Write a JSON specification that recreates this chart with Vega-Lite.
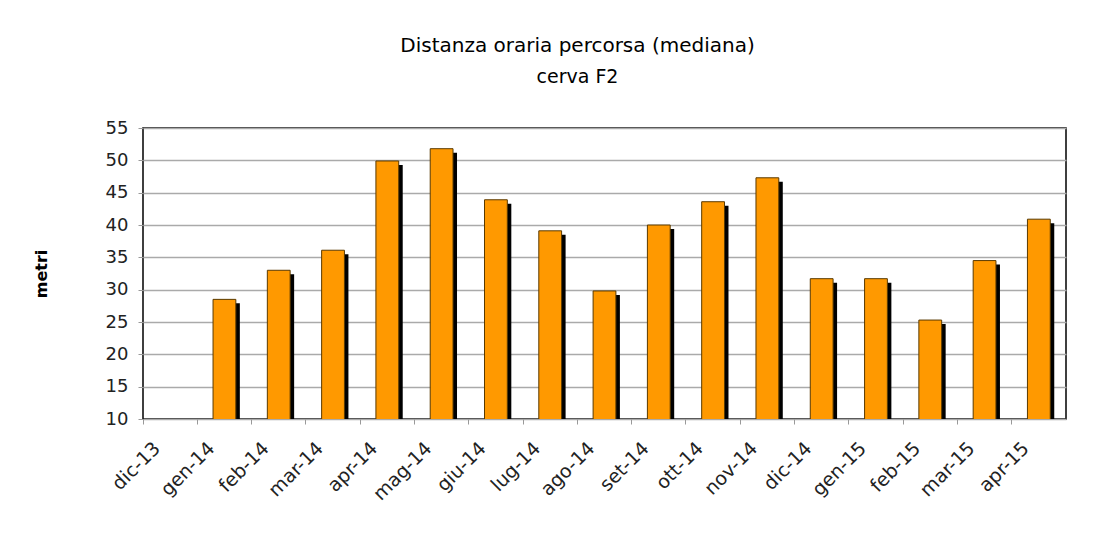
{
  "$schema": "https://vega.github.io/schema/vega-lite/v6.json",
  "width": 923,
  "height": 291,
  "autosize": "none",
  "padding": {"left": 143, "top": 128, "right": 52, "bottom": 116},
  "background": "white",
  "title": {
    "text": "Distanza oraria percorsa (mediana)",
    "subtitle": "cerva F2",
    "font": "DejaVu Sans",
    "fontSize": 20,
    "fontWeight": "normal",
    "color": "#000",
    "subtitleFont": "DejaVu Sans",
    "subtitleFontSize": 19,
    "subtitleColor": "#000",
    "subtitlePadding": 12,
    "offset": 32,
    "dx": -27,
    "anchor": "middle"
  },
  "config": {
    "view": {"stroke": "#000", "strokeWidth": 1.5}
  },
  "data": {
    "values": [
      {"mese": "dic-13", "metri": null},
      {"mese": "gen-14", "metri": 28.5},
      {"mese": "feb-14", "metri": 33.0},
      {"mese": "mar-14", "metri": 36.1},
      {"mese": "apr-14", "metri": 49.9},
      {"mese": "mag-14", "metri": 51.8},
      {"mese": "giu-14", "metri": 43.9},
      {"mese": "lug-14", "metri": 39.1},
      {"mese": "ago-14", "metri": 29.8},
      {"mese": "set-14", "metri": 40.0},
      {"mese": "ott-14", "metri": 43.6},
      {"mese": "nov-14", "metri": 47.3},
      {"mese": "dic-14", "metri": 31.7},
      {"mese": "gen-15", "metri": 31.7},
      {"mese": "feb-15", "metri": 25.3},
      {"mese": "mar-15", "metri": 34.5},
      {"mese": "apr-15", "metri": 40.9}
    ]
  },
  "encoding": {
    "x": {
      "field": "mese",
      "type": "ordinal",
      "sort": null,
      "title": null,
      "scale": {
        "domain": ["dic-13", "gen-14", "feb-14", "mar-14", "apr-14", "mag-14", "giu-14", "lug-14", "ago-14", "set-14", "ott-14", "nov-14", "dic-14", "gen-15", "feb-15", "mar-15", "apr-15"],
        "paddingInner": 0,
        "paddingOuter": 0
      },
      "axis": {
        "bandPosition": 0,
        "labelAngle": -45,
        "labelAlign": "right",
        "labelBaseline": "middle",
        "labelFont": "DejaVu Sans",
        "labelFontSize": 19,
        "labelColor": "#222",
        "labelPadding": 21,
        "labelOffset": -13,
        "tickColor": "#999",
        "tickSize": 5,
        "domain": false,
        "grid": false
      }
    },
    "y": {
      "field": "metri",
      "type": "quantitative",
      "title": "metri",
      "scale": {"domain": [10, 55], "zero": false, "nice": false},
      "axis": {
        "values": [10, 15, 20, 25, 30, 35, 40, 45, 50, 55],
        "labelFont": "DejaVu Sans",
        "labelFontSize": 18,
        "labelColor": "#222",
        "labelPadding": 10,
        "tickColor": "#999",
        "tickSize": 5,
        "domain": false,
        "grid": true,
        "gridColor": "#aaa",
        "gridWidth": 1.5,
        "titleFont": "DejaVu Sans",
        "titleFontSize": 16,
        "titleFontWeight": "bold",
        "titleColor": "#000",
        "titlePadding": 56
      }
    }
  },
  "layer": [
    {
      "mark": {"type": "bar", "color": "#000", "width": {"band": 0.42}, "xOffset": 4, "yOffset": 4, "clip": true}
    },
    {
      "mark": {"type": "bar", "color": "#FF9900", "stroke": "#5a3a00", "strokeWidth": 1, "width": {"band": 0.42}, "clip": true}
    }
  ]
}
